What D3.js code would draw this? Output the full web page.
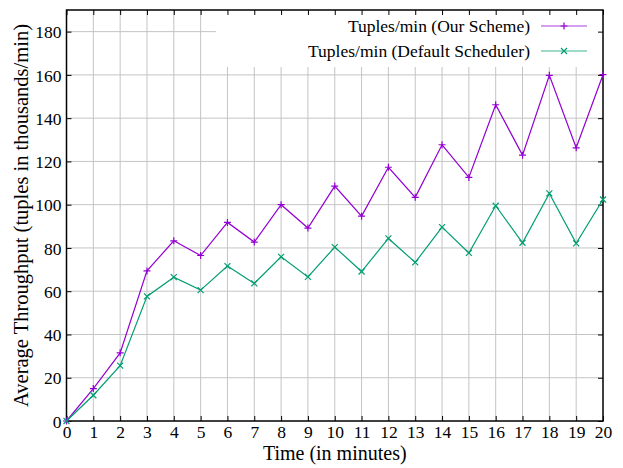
<!DOCTYPE html>
<html>
<head>
<meta charset="utf-8">
<script src="https://cdn.jsdelivr.net/npm/d3@7"></script>
<style>
  html, body { margin: 0; padding: 0; background: #fff; }
  svg { display: block; }
  text { font-family: "Liberation Serif", "Times New Roman", serif; fill: #000; }
</style>
</head>
<body>
<div id="chart"></div>
<script>
(function() {
  // minutes on the x axis
  var minutes = d3.range(0, 21);
  // throughput, thousands of tuples per minute
  var ourScheme = [0, 15.0, 31.5, 69.4, 83.3, 76.5, 91.8, 82.7, 100.0, 89.2, 108.6,
    94.7, 117.3, 103.4, 127.7, 112.6, 146.2, 122.9, 159.8, 126.3, 160.1];
  var defaultScheduler = [0, 11.9, 25.6, 57.6, 66.5, 60.5, 71.6, 63.6, 75.9, 66.6, 80.4,
    69.1, 84.4, 73.3, 89.6, 77.7, 99.5, 82.4, 105.2, 82.1, 102.4];
  var yTicks = [0, 20, 40, 60, 80, 100, 120, 140, 160, 180];
  var seriesNames = ['Tuples/min (Our Scheme)', 'Tuples/min (Default Scheduler)'];

  var width = 623;
  var height = 468;
  var margin = { top: 10, right: 20, bottom: 47, left: 66.5 };
  var innerW = width - margin.left - margin.right;
  var innerH = height - margin.top - margin.bottom;
  var colors = ['#9400d3', '#009e73'];
  var gridColor = '#c4c4c4';
  var serif = '"Liberation Serif", "Times New Roman", serif';

  var svg = d3.select('#chart').append('svg')
    .attr('width', width)
    .attr('height', height);
  var g = svg.append('g').attr('transform', 'translate(' + margin.left + ',' + margin.top + ')');

  var x = d3.scaleLinear().domain([0, 20]).range([0, innerW]);
  var y = d3.scaleLinear().domain([0, 190]).range([innerH, 0]);

  // grid
  g.append('g').selectAll('line.vgrid')
    .data(minutes.slice(1, -1))
    .enter().append('line')
    .attr('x1', function(d) { return x(d); })
    .attr('x2', function(d) { return x(d); })
    .attr('y1', 0).attr('y2', innerH)
    .attr('stroke', gridColor).attr('stroke-width', 1);
  g.append('g').selectAll('line.hgrid')
    .data(yTicks.slice(1))
    .enter().append('line')
    .attr('x1', 0).attr('x2', innerW)
    .attr('y1', function(d) { return y(d); })
    .attr('y2', function(d) { return y(d); })
    .attr('stroke', gridColor).attr('stroke-width', 1);

  // white box behind the key hides the grid there
  var keyLeft = 216 - margin.left;
  g.append('rect')
    .attr('x', keyLeft).attr('y', 0)
    .attr('width', innerW - keyLeft).attr('height', 67 - margin.top)
    .attr('fill', '#fff');

  // axes with inward ticks
  var tick = 5;
  var xAxis = g.append('g').attr('transform', 'translate(0,' + innerH + ')')
    .call(d3.axisBottom(x).tickValues(minutes).tickSizeInner(-tick).tickSizeOuter(0).tickPadding(5));
  var xTop = g.append('g')
    .call(d3.axisTop(x).tickValues(minutes).tickSizeInner(-tick).tickSizeOuter(0).tickFormat(''));
  var yAxis = g.append('g')
    .call(d3.axisLeft(y).tickValues(yTicks).tickSizeInner(-tick).tickSizeOuter(0).tickPadding(5));
  var yRight = g.append('g').attr('transform', 'translate(' + innerW + ',0)')
    .call(d3.axisRight(y).tickValues(yTicks).tickSizeInner(-tick).tickSizeOuter(0).tickFormat(''));

  [xAxis, xTop, yAxis, yRight].forEach(function(a) {
    a.attr('font-family', serif).attr('font-size', 17.5);
    a.select('.domain').remove();
    a.selectAll('.tick line').attr('stroke', '#000').attr('stroke-width', 1);
    a.selectAll('text').attr('fill', '#000');
  });
  xAxis.selectAll('text').attr('dy', '0.7em');
  yAxis.selectAll('text').attr('dy', '0.35em');

  // border
  g.append('rect')
    .attr('x', 0).attr('y', 0)
    .attr('width', innerW).attr('height', innerH)
    .attr('fill', 'none').attr('stroke', '#000').attr('stroke-width', 1.5);

  // series
  var line = d3.line()
    .x(function(d, i) { return x(minutes[i]); })
    .y(function(d) { return y(d); });

  [ourScheme, defaultScheduler].forEach(function(values, s) {
    g.append('path')
      .datum(values)
      .attr('d', line)
      .attr('fill', 'none')
      .attr('stroke', colors[s])
      .attr('stroke-width', 1.2);
    g.append('g').selectAll('path.pt')
      .data(values)
      .enter().append('path')
      .attr('transform', function(d, i) { return 'translate(' + x(minutes[i]) + ',' + y(d) + ')'; })
      .attr('d', s === 0 ? 'M-3.5,0H3.5M0,-3.5V3.5' : 'M-3,-3L3,3M-3,3L3,-3')
      .attr('fill', 'none')
      .attr('stroke', colors[s])
      .attr('stroke-width', 1.2);
  });

  // key
  var key = svg.append('g');
  seriesNames.forEach(function(name, s) {
    var ky = 26 + s * 25;
    key.append('text')
      .attr('x', 530).attr('y', ky)
      .attr('dy', '0.35em')
      .attr('text-anchor', 'end')
      .style('font-size', '17.5px')
      .text(name);
    key.append('line')
      .attr('x1', 541).attr('x2', 587)
      .attr('y1', ky).attr('y2', ky)
      .attr('stroke', colors[s]).attr('stroke-width', 1.2).attr('opacity', 0.75);
    key.append('path')
      .attr('transform', 'translate(564,' + ky + ')')
      .attr('d', s === 0 ? 'M-3.5,0H3.5M0,-3.5V3.5' : 'M-3,-3L3,3M-3,3L3,-3')
      .attr('fill', 'none')
      .attr('stroke', colors[s]).attr('stroke-width', 1.2);
  });

  // axis titles
  svg.append('text')
    .attr('x', margin.left + innerW / 2).attr('y', 460)
    .attr('text-anchor', 'middle')
    .style('font-size', '20px')
    .text('Time (in minutes)');
  svg.append('text')
    .attr('transform', 'translate(28,' + (margin.top + innerH / 2) + ') rotate(-90)')
    .attr('text-anchor', 'middle')
    .style('font-size', '20.5px')
    .text('Average Throughput (tuples in thousands/min)');
})();
</script>
</body>
</html>
